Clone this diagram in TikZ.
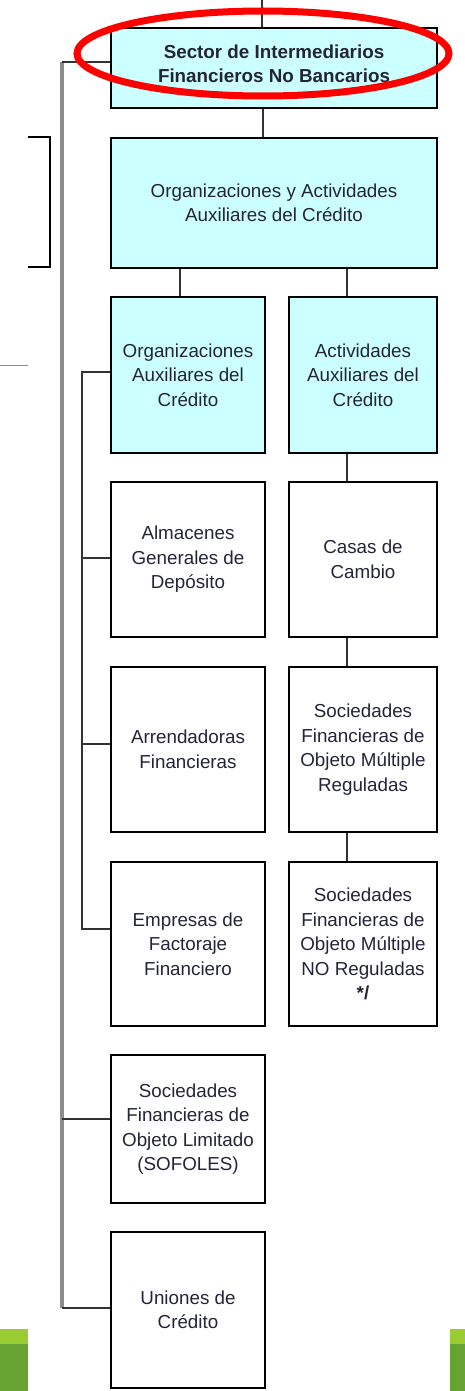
\documentclass[tikz,border=0pt]{standalone}
\usepackage{fontspec}
\setmainfont{Liberation Sans}
\definecolor{cajaazul}{RGB}{204,255,255}
\definecolor{texto}{RGB}{36,36,56}
\definecolor{verdeclaro}{RGB}{153,204,51}
\definecolor{verdeosc}{RGB}{102,163,51}
\newcommand{\letra}{\fontsize{18.8}{24.5}\selectfont}

\begin{document}
\begin{tikzpicture}[x=1pt, y=-1pt,
  caja/.style={draw=black, line width=2pt, text=texto, align=center, inner sep=0pt, font=\letra},
  azul/.style={caja, fill=cajaazul},
  enlace/.style={draw=black!80, line width=1.6pt},
  tronco/.style={draw=black!45, line width=3.2pt}]
\useasboundingbox (0,0) rectangle (465,1391);

\fill[verdeosc] (0,1329) rectangle (28,1391);
\fill[verdeclaro] (0,1329) rectangle (28,1344);
\fill[verdeosc] (450,1329) rectangle (465,1391);
\fill[verdeclaro] (450,1329) rectangle (465,1344);

\draw[black, line width=1.5pt] (28,137) -- (50,137) -- (50,267) -- (28,267);
\draw[black!45, line width=0.8pt] (0,365) -- (28,365);

\node[azul, minimum width=326pt, minimum height=80pt, text depth=9pt, font=\letra\bfseries] (sector) at (274,68)
  {Sector de Intermediarios\\Financieros No Bancarios};
\node[azul, minimum width=326pt, minimum height=130pt] (oaac) at (274,203)
  {Organizaciones y Actividades\\Auxiliares del Crédito};
\node[azul, minimum width=154pt, minimum height=156pt] (oac) at (188,375)
  {Organizaciones\\Auxiliares del\\Crédito};
\node[azul, minimum width=148pt, minimum height=156pt] (aac) at (363,375)
  {Actividades\\Auxiliares del\\Crédito};

\node[caja, minimum width=154pt, minimum height=155pt] (almacenes) at (188,559.5)
  {Almacenes\\Generales de\\Depósito};
\node[caja, minimum width=154pt, minimum height=165pt] (arrend) at (188,749.5)
  {Arrendadoras\\Financieras};
\node[caja, minimum width=154pt, minimum height=164pt] (empresas) at (188,944)
  {Empresas de\\Factoraje\\Financiero};
\node[caja, minimum width=154pt, minimum height=148pt] (sofoles) at (188,1129)
  {Sociedades\\Financieras de\\Objeto Limitado\\(SOFOLES)};
\node[caja, minimum width=154pt, minimum height=156pt] (uniones) at (188,1310)
  {Uniones de\\Crédito};

\node[caja, minimum width=148pt, minimum height=155pt] (casas) at (363,559.5)
  {Casas de\\Cambio};
\node[caja, minimum width=148pt, minimum height=165pt] (sofomr) at (363,749.5)
  {Sociedades\\Financieras de\\Objeto Múltiple\\Reguladas};
\node[caja, minimum width=148pt, minimum height=164pt] (sofomnr) at (363,944)
  {Sociedades\\Financieras de\\Objeto Múltiple\\NO Reguladas\\\textbf{*/}};

\coordinate (arriba) at (262,0);
\coordinate (t1) at (62,62);
\coordinate (t2) at (62,1308);
\coordinate (i1) at (82,372);
\coordinate (i2) at (82,929);

\draw[enlace] (arriba) -- (arriba |- sector.north);
\draw[enlace] (sector.south -| 263,0) -- (oaac.north -| 263,0);
\draw[enlace] (oaac.south -| 180,0) -- (oac.north -| 180,0);
\draw[enlace] (oaac.south -| 347,0) -- (aac.north -| 347,0);
\foreach \a/\b in {aac/casas, casas/sofomr, sofomr/sofomnr}
  \draw[enlace] (\a.south -| 347,0) -- (\b.north -| 347,0);

\draw[enlace] (oac.west |- i1) -- (i1) -- (i2) -- (empresas.west |- i2);
\draw[enlace] (82,558) -- (almacenes.west |- 0,558);
\draw[enlace] (82,744) -- (arrend.west |- 0,744);

\draw[tronco] (t1) -- (t2);
\draw[enlace] (sector.west |- t1) -- (t1);
\draw[enlace] (t2) -- (uniones.west |- t2);
\draw[enlace] (62,1119) -- (sofoles.west |- 0,1119);

\draw[red, line width=7pt] (263,53.5) ellipse [x radius=186, y radius=42.5];
\end{tikzpicture}
\end{document}
